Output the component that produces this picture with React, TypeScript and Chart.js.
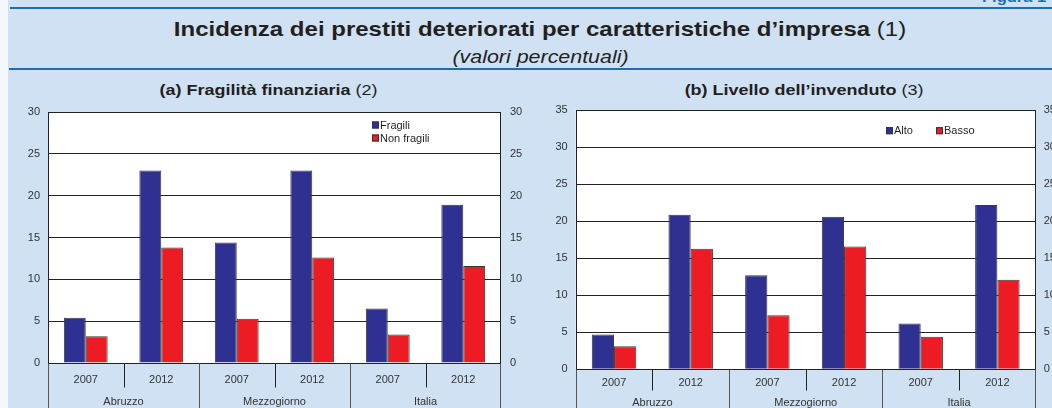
import React, { useEffect, useRef } from 'react';
import { Chart, registerables } from 'chart.js';

Chart.register(...registerables);

// ---- data ----
const years = ['2007', '2012', '2007', '2012', '2007', '2012'];
const regions = ['Abruzzo', 'Mezzogiorno', 'Italia'];

const fragili = [5.4, 23.0, 14.4, 23.0, 6.5, 18.9];
const nonFragili = [3.2, 13.8, 5.3, 12.6, 3.4, 11.6];

const alto = [4.7, 20.9, 12.7, 20.6, 6.2, 22.2];
const basso = [3.1, 16.3, 7.3, 16.6, 4.4, 12.1];

const leftMax = 30;
const rightMax = 35;
const tickStep = 5;

const BLUE = '#2e3192';
const RED = '#ed1c24';
const FONT = '"Liberation Sans", Arial, Helvetica, sans-serif';

type PanelCfg = {
  names: [string, string];
  a: number[];
  b: number[];
  max: number;
  leftW: number;
  rightW: number;
  topPad: number;
  xAxisH: number;
  yearPad: number;
  regionDy: number;
  shortTick: number;
  tickPadL: number;
  tickPadR: number;
  legend: { x: number; y: number }[];
  width: number;
  height: number;
};

function makePlugin(cfg: PanelCfg) {
  return {
    id: 'decor',
    beforeDraw(chart: any) {
      const { ctx, chartArea: ca } = chart;
      ctx.save();
      ctx.fillStyle = '#ffffff';
      ctx.fillRect(ca.left, ca.top, ca.right - ca.left, ca.bottom - ca.top);
      ctx.restore();
    },
    afterDraw(chart: any) {
      const { ctx, chartArea: ca } = chart;
      ctx.save();
      const L = Math.round(ca.left) + 0.5;
      const R = Math.round(ca.right) - 0.5;
      const T = Math.round(ca.top) + 0.5;
      const B = Math.round(ca.bottom) + 0.5;
      ctx.strokeStyle = '#222';
      ctx.lineWidth = 1;
      ctx.strokeRect(L, T, R - L, B - T);

      const n = years.length;
      const w = (ca.right - ca.left) / n;
      for (let k = 0; k <= n; k++) {
        const xx = Math.round(ca.left + k * w) + (k === n ? -0.5 : 0.5);
        ctx.beginPath();
        if (k % 2 === 0) {
          ctx.strokeStyle = '#555';
          ctx.moveTo(xx, B);
          ctx.lineTo(xx, chart.height);
        } else {
          ctx.strokeStyle = '#222';
          ctx.moveTo(xx, B);
          ctx.lineTo(xx, B + cfg.shortTick);
        }
        ctx.stroke();
      }

      ctx.font = `11px ${FONT}`;
      ctx.fillStyle = '#333';
      ctx.textAlign = 'center';
      ctx.textBaseline = 'middle';
      regions.forEach((r, i) => {
        ctx.fillText(r, ca.left + (2 * i + 1) * w, ca.bottom + cfg.regionDy);
      });

      // legend
      ctx.textAlign = 'left';
      const colors = [BLUE, RED];
      cfg.legend.forEach((p, i) => {
        ctx.fillStyle = colors[i];
        ctx.fillRect(p.x, p.y - 3.5, 7, 7);
        ctx.strokeStyle = '#333';
        ctx.strokeRect(p.x + 0.5, p.y - 3, 6, 6);
        ctx.fillStyle = '#231f20';
        ctx.fillText(cfg.names[i], p.x + 8, p.y + 0.5);
      });
      ctx.restore();
    },
  };
}

function Panel({ cfg, left, top }: { cfg: PanelCfg; left: number; top: number }) {
  const ref = useRef<HTMLCanvasElement | null>(null);
  useEffect(() => {
    if (!ref.current) return;
    const tickFont = { family: FONT, size: 11 };
    const noPad = (s: any) => {
      s.paddingTop = 0;
      s.paddingBottom = 0;
      s.paddingLeft = 0;
      s.paddingRight = 0;
    };
    const chart = new Chart(ref.current, {
      type: 'bar',
      data: {
        labels: years,
        datasets: [
          {
            label: cfg.names[0],
            data: cfg.a,
            backgroundColor: BLUE,
            borderColor: '#3a3a3a',
            borderWidth: 1,
            yAxisID: 'y',
          },
          {
            label: cfg.names[1],
            data: cfg.b,
            backgroundColor: RED,
            borderColor: '#3a3a3a',
            borderWidth: 1,
            yAxisID: 'y',
          },
        ],
      },
      options: {
        responsive: false,
        animation: false,
        devicePixelRatio: 1,
        layout: { padding: { top: cfg.topPad, left: 0, right: 0, bottom: 0 } },
        datasets: { bar: { categoryPercentage: 0.58, barPercentage: 1 } },
        plugins: { legend: { display: false }, tooltip: { enabled: false }, title: { display: false } },
        scales: {
          x: {
            type: 'category',
            grid: { display: false, drawTicks: false },
            border: { display: false },
            ticks: { font: tickFont, color: '#333', padding: cfg.yearPad, maxRotation: 0, autoSkip: false },
            afterFit: (s: any) => {
              s.height = cfg.xAxisH;
              noPad(s);
            },
          },
          y: {
            position: 'left',
            min: 0,
            max: cfg.max,
            ticks: { stepSize: tickStep, font: tickFont, color: '#333', padding: cfg.tickPadL },
            grid: { color: '#222', lineWidth: 1, drawTicks: false },
            border: { display: false },
            afterFit: (s: any) => {
              s.width = cfg.leftW;
              noPad(s);
            },
          },
          y2: {
            position: 'right',
            min: 0,
            max: cfg.max,
            ticks: { stepSize: tickStep, font: tickFont, color: '#333', padding: cfg.tickPadR },
            grid: { display: false, drawTicks: false },
            border: { display: false },
            afterFit: (s: any) => {
              s.width = cfg.rightW;
              noPad(s);
            },
          },
        },
      } as any,
      plugins: [makePlugin(cfg)],
    });
    return () => chart.destroy();
  }, [cfg]);
  return (
    <canvas
      ref={ref}
      width={cfg.width}
      height={cfg.height}
      style={{ position: 'absolute', left, top, width: cfg.width, height: cfg.height }}
    />
  );
}

const leftCfg: PanelCfg = {
  names: ['Fragili', 'Non fragili'],
  a: fragili,
  b: nonFragili,
  max: leftMax,
  leftW: 48,
  rightW: 29,
  topPad: 12,
  xAxisH: 45,
  yearPad: 10,
  regionDy: 39,
  shortTick: 24,
  tickPadL: 8,
  tickPadR: 9,
  legend: [
    { x: 372, y: 25 },
    { x: 372, y: 38 },
  ],
  width: 530,
  height: 308,
};

const rightCfg: PanelCfg = {
  names: ['Alto', 'Basso'],
  a: alto,
  b: basso,
  max: rightMax,
  leftW: 45.7,
  rightW: 16.3,
  topPad: 10.3,
  xAxisH: 38.7,
  yearPad: 7,
  regionDy: 34,
  shortTick: 21,
  tickPadL: 8,
  tickPadR: 8,
  legend: [
    { x: 356, y: 30.7 },
    { x: 406, y: 30.7 },
  ],
  width: 522,
  height: 308,
};

export default function App() {
  useEffect(() => {
    document.body.style.margin = '0';
  }, []);
  const textColor = '#231f20';
  const centered = (left: number, width: number, top: number, fontSize: number, lh: number, sx: number) => ({
    position: 'absolute' as const,
    left,
    top,
    width,
    textAlign: 'center' as const,
    fontSize,
    lineHeight: `${lh}px`,
    whiteSpace: 'nowrap' as const,
    transform: `scaleX(${sx})`,
    transformOrigin: 'center',
  });
  return (
    <div
      style={{
        position: 'relative',
        width: 1052,
        height: 408,
        overflow: 'hidden',
        background: '#cfe1f2',
        fontFamily: FONT,
        color: textColor,
      }}
    >
      <div style={{ position: 'absolute', left: 0, top: 0, width: 8, height: 408, background: '#f4f7fb' }} />
      <div
        style={{
          position: 'absolute',
          left: 982,
          top: -10,
          fontSize: 14,
          lineHeight: '14px',
          fontWeight: 'bold',
          color: '#1a6fb0',
          whiteSpace: 'nowrap',
          transform: 'scaleX(1.18)',
          transformOrigin: 'left',
        }}
      >
        Figura 1
      </div>
      <div style={{ position: 'absolute', left: 10, top: 7, width: 1042, height: 2, background: '#1a6fb0' }} />
      <div style={{ position: 'absolute', left: 9, top: 68, width: 1043, height: 2, background: '#1a6fb0' }} />
      <div style={centered(0, 1080, 17, 21, 24, 1.143)}>
        <b>Incidenza dei prestiti deteriorati per caratteristiche d’impresa</b> (1)
      </div>
      <div style={{ ...centered(0, 1081, 47, 18, 20, 1.19), fontStyle: 'italic' }}>(valori percentuali)</div>
      <div style={centered(0, 537, 81, 15.5, 18, 1.16)}>
        <b>(a) Fragilità finanziaria</b> (2)
      </div>
      <div style={centered(556, 496, 81, 15.5, 18, 1.16)}>
        <b>(b) Livello dell’invenduto</b> (3)
      </div>
      <Panel cfg={leftCfg} left={0} top={100} />
      <Panel cfg={rightCfg} left={530} top={100} />
    </div>
  );
}
